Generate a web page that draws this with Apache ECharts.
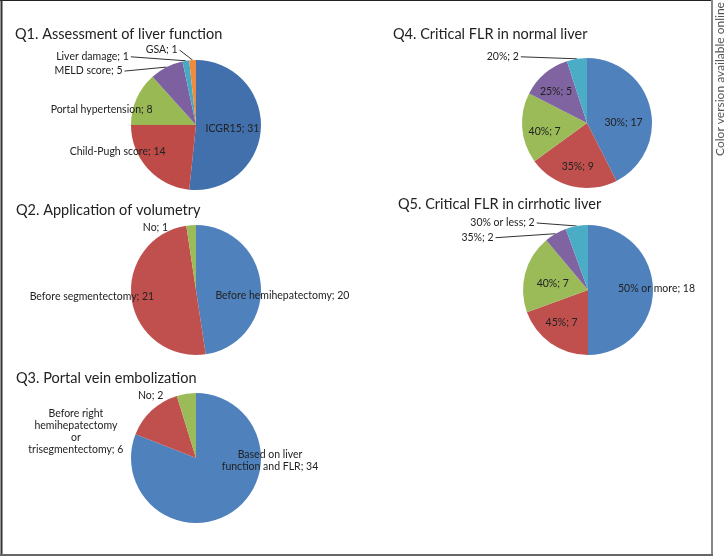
<!DOCTYPE html>
<html>
<head>
<meta charset="utf-8">
<script src="https://cdn.jsdelivr.net/npm/echarts@6/dist/echarts.min.js"></script>
<style>
html,body{margin:0;padding:0;background:#fff;}
#chart{width:726px;height:557px;}
</style>
</head>
<body>
<div id="chart"></div>
<script>
// ---- data ----
const q1Names = ['ICGR15', 'Child-Pugh score', 'Portal hypertension', 'MELD score', 'Liver damage', 'GSA'];
const q1Values = [31, 14, 8, 5, 1, 1];

const q2Names = ['Before hemihepatectomy', 'Before segmentectomy', 'No'];
const q2Values = [20, 21, 1];

const q3Names = ['Based on liver\nfunction and FLR', 'Before right\nhemihepatectomy\nor\ntrisegmentectomy', 'No'];
const q3Values = [34, 6, 2];

const q4Names = ['30%', '35%', '40%', '25%', '20%'];
const q4Values = [17, 9, 7, 5, 2];

const q5Names = ['50% or more', '45%', '40%', '35%', '30% or less'];
const q5Values = [18, 7, 7, 2, 2];

const titles = [
  'Q1. Assessment of liver function',
  'Q2. Application of volumetry',
  'Q3. Portal vein embolization',
  'Q4. Critical FLR in normal liver',
  'Q5. Critical FLR in cirrhotic liver'
];

// ---- styling / layout ----
const FONT = 'Lato';
const colorsQ1 = ['#4270AC', '#BE4B48', '#98B954', '#7D60A0', '#46AAC5', '#F08A3C'];
const colors = ['#4F81BD', '#C0504D', '#9BBB59', '#8064A2', '#4BACC6'];

// label placement nudges [dx, dy] relative to the library's own label position
const q1Lab = [
  {pos: 'inside', d: [1, 2]},
  {pos: 'inside', d: [-52, 3]},
  {pos: 'inside', d: [-62, -1]},
  {pos: 'outside', d: [-39, 4], line: true},
  {pos: 'outside', d: [-52, -4], line: true},
  {pos: 'outside', d: [-10, -10], line: true}
];
const q2Lab = [
  {pos: 'inside', d: [51, 8]},
  {pos: 'inside', d: [-69, 1]},
  {pos: 'outside', d: [-18, 2], line: false}
];
const q3Lab = [
  {pos: 'inside', d: [54, -27]},
  {pos: 'inside', d: [-96, 0]},
  {pos: 'outside', d: [-18, 2], line: false}
];
const q4Lab = [
  {pos: 'inside', d: [2, 8]},
  {pos: 'inside', d: [-1, 9]},
  {pos: 'inside', d: [-7, 6]},
  {pos: 'inside', d: [-8, -4]},
  {pos: 'outside', d: [-53, -2], line: true}
];
const q5Lab = [
  {pos: 'inside', d: [33, -1]},
  {pos: 'inside', d: [-6, 4]},
  {pos: 'inside', d: [-1, 3]},
  {pos: 'outside', d: [-57, 4], line: true},
  {pos: 'outside', d: [-37, -3], line: true}
];

function buildData(names, values, labs, palette) {
  return names.map(function (n, i) {
    const L = labs[i];
    const item = {name: n, value: values[i], itemStyle: {color: palette[i]}, label: {position: L.pos}};
    if (L.pos === 'outside') {
      item.labelLine = {show: L.line, length: 0, length2: 0};
    }
    return item;
  });
}

function pieSeries(names, values, labs, center, palette) {
  return {
    type: 'pie',
    radius: 65,
    center: center,
    startAngle: 90,
    clockwise: true,
    avoidLabelOverlap: false,
    silent: true,
    animation: false,
    itemStyle: {borderWidth: 0},
    label: {
      show: true,
      formatter: '{b}; {c}',
      fontFamily: FONT,
      fontSize: 10.5,
      color: '#222',
      lineHeight: 12,
      align: 'center'
    },
    labelLine: {lineStyle: {color: '#333', width: 1}, smooth: false},
    labelLayout: function (p) {
      const L = labs[p.dataIndex];
      if (!L) return {};
      const out = {dx: L.d[0], dy: L.d[1]};
      if (L.pos === 'outside' && L.line && p.labelLinePoints) {
        const p0 = p.labelLinePoints[0];
        const r = p.labelRect;
        const end = [r.x + r.width + L.d[0] + 2, r.y + r.height / 2 + L.d[1]];
        out.labelLinePoints = [p0, end, end];
      }
      return out;
    },
    emphasis: {disabled: true},
    data: buildData(names, values, labs, palette)
  };
}

const titleStyle = {fontFamily: FONT, fontSize: 14.5, fontWeight: 'normal', color: '#222'};
const titlePos = [[15, 27], [16, 203], [16, 371], [393, 27], [398, 197]];

const option = {
  backgroundColor: '#fff',
  animation: false,
  title: titles.map(function (t, i) {
    return {text: t, left: titlePos[i][0], top: titlePos[i][1], padding: 0, textStyle: titleStyle};
  }),
  series: [
    pieSeries(q1Names, q1Values, q1Lab, [196, 125], colorsQ1),
    pieSeries(q2Names, q2Values, q2Lab, [196, 290], colors),
    pieSeries(q3Names, q3Values, q3Lab, [196, 458], colors),
    pieSeries(q4Names, q4Values, q4Lab, [587, 123], colors),
    pieSeries(q5Names, q5Values, q5Lab, [588, 290], colors)
  ],
  graphic: [
    {type: 'line', shape: {x1: 0, y1: 0.5, x2: 712, y2: 0.5}, style: {stroke: '#222', lineWidth: 1}},
    {type: 'line', shape: {x1: 1.5, y1: 0, x2: 1.5, y2: 556}, style: {stroke: '#333', lineWidth: 2}},
    {type: 'line', shape: {x1: 712, y1: 0, x2: 712, y2: 556}, style: {stroke: '#888', lineWidth: 2}},
    {type: 'line', shape: {x1: 0, y1: 555, x2: 713, y2: 555}, style: {stroke: '#666', lineWidth: 2}},
    {type: 'text', x: 720, y: 79, rotation: Math.PI / 2,
     style: {text: 'Color version available online', fontFamily: FONT, fontSize: 12, fill: '#555',
             textAlign: 'center', textVerticalAlign: 'middle'}}
  ]
};

const chart = echarts.init(document.getElementById('chart'), null, {renderer: 'canvas'});
chart.setOption(option);
</script>
</body>
</html>
